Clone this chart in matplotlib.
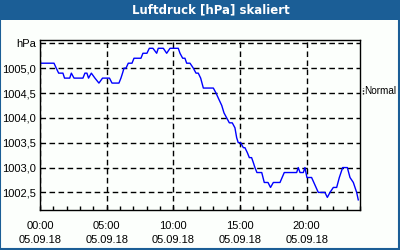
import matplotlib
matplotlib.use("Agg")
import matplotlib.pyplot as plt
from matplotlib.patches import Rectangle
from matplotlib.lines import Line2D

plt.rcParams['font.family'] = ['Liberation Sans', 'DejaVu Sans']

title = "Luftdruck [hPa] skaliert"

# hours since 00:00 on 05.09.18, pressure in hPa
hours = [0.0, 1.05, 1.22, 1.4, 1.72, 1.84, 2.23, 2.35, 2.55, 3.22, 3.37, 3.52,
         3.64, 3.85, 4.12, 4.42, 4.69, 5.21, 5.4, 5.92, 6.07, 6.19, 6.3, 6.45,
         6.62, 6.9, 7.05, 7.57, 7.72, 8.02, 8.2, 8.47, 8.75, 8.87, 9.25, 9.5,
         9.75, 10.37, 10.5, 10.7, 10.87, 11.0, 11.25, 11.5, 11.7, 11.87, 12.05,
         12.25, 13.0, 13.2, 13.37, 13.63, 13.8, 14.0, 14.2, 14.42, 14.62, 14.75,
         14.87, 15.05, 15.25, 15.37, 15.55, 15.7, 15.87, 16.0, 16.12, 16.27,
         16.63, 16.82, 16.99, 17.1, 17.29, 17.5, 18.0, 18.32, 19.25, 19.37,
         19.5, 19.75, 19.87, 20.02, 20.37, 20.62, 20.87, 21.37, 21.55, 21.75,
         22.0, 22.25, 22.45, 22.7, 23.05, 23.25, 23.5, 23.75, 23.87]
pressure = [1005.1, 1005.1, 1005.0, 1004.9, 1004.9, 1004.8, 1004.8, 1004.9,
            1004.8, 1004.8, 1004.9, 1004.9, 1004.8, 1004.9, 1004.8, 1004.7,
            1004.8, 1004.8, 1004.7, 1004.7, 1004.8, 1004.9, 1005.0, 1005.0,
            1005.1, 1005.1, 1005.2, 1005.2, 1005.3, 1005.3, 1005.4, 1005.4,
            1005.3, 1005.4, 1005.4, 1005.3, 1005.4, 1005.4, 1005.3, 1005.2,
            1005.2, 1005.1, 1005.1, 1005.0, 1004.9, 1004.9, 1004.8, 1004.6,
            1004.6, 1004.5, 1004.4, 1004.25, 1004.1, 1004.0, 1003.9, 1003.9,
            1003.8, 1003.6, 1003.5, 1003.5, 1003.4, 1003.4, 1003.3, 1003.2,
            1003.2, 1003.1, 1003.0, 1002.9, 1002.9, 1002.7, 1002.7, 1002.7,
            1002.6, 1002.7, 1002.7, 1002.9, 1002.9, 1003.0, 1002.9, 1002.9,
            1003.0, 1002.8, 1002.8, 1002.65, 1002.5, 1002.5, 1002.4, 1002.5,
            1002.6, 1002.6, 1002.8, 1003.0, 1003.0, 1002.8, 1002.7, 1002.5,
            1002.35]

x_ticks = [0, 5, 10, 15, 20]
x_labels = ["00:00\n05.09.18", "05:00\n05.09.18", "10:00\n05.09.18",
            "15:00\n05.09.18", "20:00\n05.09.18"]
y_ticks = [1002.5, 1003.0, 1003.5, 1004.0, 1004.5, 1005.0, 1005.5]
y_labels = ["1002,5", "1003,0", "1003,5", "1004,0", "1004,5", "1005,0", "hPa"]
normal_level = 1004.55

blue = "#1b5e96"

fig = plt.figure(figsize=(4, 2.5), dpi=100)
fig.patch.set_facecolor("#fcfffc")

# title bar and frame
fig.patches.append(Rectangle((0, 0.92), 1, 0.08, transform=fig.transFigure,
                             facecolor=blue, edgecolor="none", zorder=0))
fig.patches.append(Rectangle((0.0012, 0.004), 0.9965, 0.99, transform=fig.transFigure,
                             facecolor="none", edgecolor=blue, lw=1.5, zorder=0))
fig.text(0.528, 0.96, title, color="white", fontsize=8.5, fontweight="bold",
         ha="center", va="center", family=["DejaVu Sans"])

ax = fig.add_axes([0.1, 0.16, 0.8, 0.68])
ax.set_facecolor("#fcfffc")
ax.plot(hours, pressure, color="#0000ff", lw=1)

ax.set_xlim(0, 24)
ax.set_ylim(1002.146, 1005.567)
ax.set_xticks(x_ticks)
ax.set_xticklabels(x_labels, fontsize=8, linespacing=1.45)
ax.set_xticks(range(0, 25), minor=True)
ax.set_yticks(y_ticks)
ax.set_yticklabels(y_labels, fontsize=8)

ax.tick_params(axis="x", which="both", direction="in", length=3, width=1,
               pad=8, color="black")
ax.tick_params(axis="y", length=0, pad=3)
ax.grid(True, which="major", color="black", linestyle=(0, (4, 2.5)), lw=1)
for s in ax.spines.values():
    s.set_color("black")
    s.set_linewidth(1)

# marker for normal pressure on the right side
yf = ax.transData.transform((0, normal_level))[1]
yf = fig.transFigure.inverted().transform((0, yf))[1]
fig.add_artist(Line2D([0.907, 0.907], [yf - 0.012, yf + 0.012],
                      color="black", lw=1, linestyle=(0, (1, 1))))
fig.text(0.911, yf, "Normal", fontsize=7.2, ha="left", va="center")

fig.savefig("out.png", dpi=100, facecolor=fig.get_facecolor())
